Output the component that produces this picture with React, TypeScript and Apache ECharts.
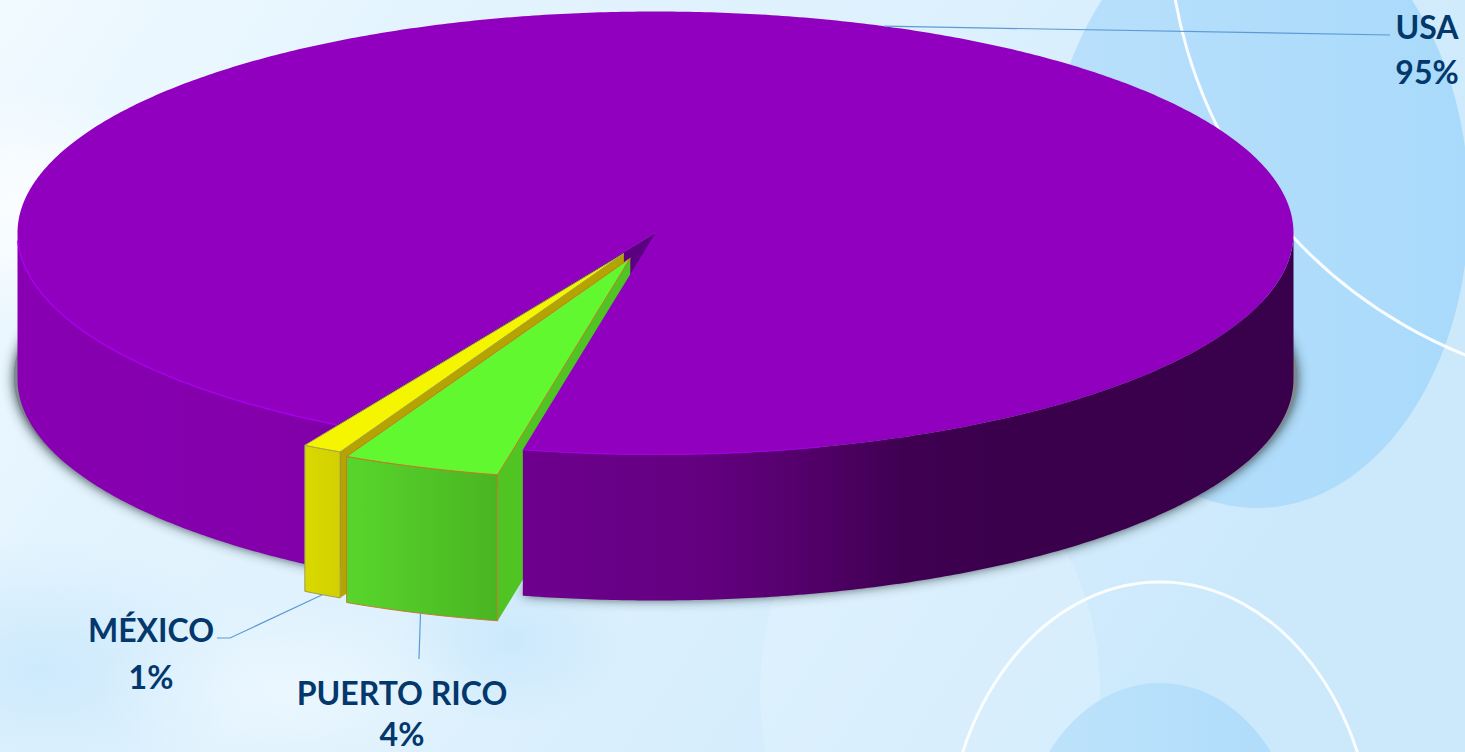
import React, { useEffect, useRef } from "react";
import * as echarts from "echarts";

// ---- data ----
const categories = ["USA", "PUERTO RICO", "MÉXICO"];
const seriesValues = [95, 4, 1];
const explosion = [0, 0.12, 0.105];
const firstSliceAngle = 210;

// ---- layout ----
const W = 1465;
const H = 752;
const CX = 655.5;
const CY = 233;
const RX = 638;
const RY = 221.5;
const DEPTH = 146;
const FONT = "Lato";
const LABEL_COLOR = "#03386c";
const LEADER = "#5b9bd5";
const labelBoxes: [number, number, number][] = [
  [1427, 26, 71],
  [402, 692, 733],
  [151, 629, 676],
];
const leaderKnee: [number, number][][] = [
  [[1390, 35]],
  [[419, 659]],
  [[230, 638], [217, 638]],
];

const total = seriesValues.reduce((a, b) => a + b, 0);
const deg = Math.PI / 180;
const starts: number[] = [];
seriesValues.reduce((acc, v, i) => {
  starts[i] = acc;
  return acc + (v / total) * 360;
}, firstSliceAngle);
const ends = seriesValues.map((v, i) => starts[i] + (v / total) * 360);
const mids = starts.map((s, i) => (s + ends[i]) / 2);

function pt(i: number, a: number, r: number, dz: number): [number, number] {
  const e = explosion[i];
  const m = mids[i] * deg;
  const t = a * deg;
  return [
    CX + RX * (e * Math.sin(m) + r * Math.sin(t)),
    CY - RY * (e * Math.cos(m) + r * Math.cos(t)) + dz,
  ];
}
function arc(i: number, a0: number, a1: number, dz: number, r = 1) {
  const out: [number, number][] = [];
  const n = Math.max(2, Math.ceil(Math.abs(a1 - a0) * 2));
  for (let k = 0; k <= n; k++) out.push(pt(i, a0 + ((a1 - a0) * k) / n, r, dz));
  return out;
}
function hgrad(x0: number, x1: number, stops: [number, string][]) {
  return new echarts.graphic.LinearGradient(
    x0, 0, x1, 0,
    stops.map(([p, color]) => ({ offset: (p - x0) / (x1 - x0), color })),
    true
  );
}
const poly = (points: [number, number][], style: any) => ({ type: "polygon", shape: { points }, style });

function frontRanges(a0: number, a1: number) {
  const out: [number, number][] = [];
  for (const [f0, f1] of [[90, 270], [450, 630]]) {
    const s = Math.max(a0, f0);
    const e = Math.min(a1, f1);
    if (e > s) out.push([s, e]);
  }
  return out;
}
function radialFace(i: number, fill: string) {
  const c = pt(i, 0, 0, 0);
  const c2 = pt(i, 0, 0, DEPTH);
  const r = pt(i, starts[i], 1, 0);
  const r2 = pt(i, starts[i], 1, DEPTH);
  return poly([c, r, r2, c2], { fill });
}
function wallSegments(i: number, fill: any, stroke?: string) {
  return frontRanges(starts[i], ends[i]).map(([s, e]) =>
    poly([...arc(i, s, e, 0), ...arc(i, e, s, DEPTH)], { fill, stroke, lineWidth: stroke ? 1 : 0 })
  );
}
const topFace = (i: number, fill: string, stroke?: string) =>
  poly([pt(i, 0, 0, 0), ...arc(i, starts[i], ends[i], 0)], { fill, stroke, lineWidth: stroke ? 1 : 0 });

const usaWall = () =>
  hgrad(18, 1294, [
    [18, "#8800b2"],
    [300, "#8200aa"],
    [520, "#6e008e"],
    [700, "#630080"],
    [800, "#54006c"],
    [900, "#400052"],
    [1000, "#3a004c"],
    [1294, "#39004b"],
  ]);

// Painted back to front: hidden sides + shadow first, so the USA top face can occlude them.
const underLayer = () => ({
  type: "group",
  children: [
    poly(
      [[CX, CY + DEPTH - 2] as [number, number], ...arc(0, starts[0], ends[0], DEPTH - 2)].map(
        ([x, y]) => [CX + (x - CX) * 1.006, y] as [number, number]
      ),
      { fill: "#7d8a8e", shadowBlur: 12, shadowColor: "rgba(40,55,60,0.9)", shadowOffsetY: 1 }
    ),
    radialFace(0, "#5a0080"),
    radialFace(2, "#b5a300"),
    radialFace(1, "#4fc423"),
  ],
});

const usaLayer = () => ({
  type: "group",
  children: [
    ...wallSegments(0, usaWall()),
    topFace(0, "#9100bf"),
    { type: "polyline", shape: { points: arc(0, starts[0], 268, 0) }, style: { fill: "none", stroke: "#a800e8", lineWidth: 1.5 } },
    { type: "polyline", shape: { points: arc(0, 165, starts[1] - 360, 0) }, style: { fill: "none", stroke: "#a200de", lineWidth: 1.2 } },
  ],
});
const mexicoLayer = () => ({
  type: "group",
  children: [
    ...wallSegments(2, hgrad(305, 340, [[305, "#d9d900"], [340, "#d3d000"]]), "#9a9a60"),
    topFace(2, "#f5f500", "#a8a850"),
  ],
});
const puertoRicoLayer = () => ({
  type: "group",
  children: [
    ...wallSegments(1, hgrad(345, 497, [[345, "#58d62c"], [497, "#4ab522"]]), "#c47a2c"),
    topFace(1, "#62f830", "#c47a2c"),
  ],
});

function labelText(x: number, y: number, text: string) {
  return {
    type: "text",
    x,
    y,
    style: {
      text,
      font: `bold 32px ${FONT}`,
      fill: LABEL_COLOR,
      align: "center",
      verticalAlign: "middle",
      lineHeight: 30,
    },
  };
}

function labelLayer(i: number) {
  const start = pt(i, mids[i], 1, i === 0 ? 0 : DEPTH);
  const [lx, y1, y2] = labelBoxes[i];
  return {
    type: "group",
    children: [
      { type: "polyline", shape: { points: [start, ...leaderKnee[i]] }, style: { fill: "none", stroke: LEADER, lineWidth: 1.2 } },
      labelText(lx, y1, categories[i]),
      labelText(lx, y2, `${seriesValues[i]}%`),
    ],
  };
}

function layerSeries(z: number, render: (i: number) => any) {
  return {
    type: "custom",
    coordinateSystem: "none",
    silent: true,
    z,
    data: seriesValues,
    renderItem: (params: any) => render(params.dataIndex),
  };
}

function radial(color0: string, color1: string) {
  return new echarts.graphic.RadialGradient(0.5, 0.5, 0.5, [
    { offset: 0, color: color0 },
    { offset: 1, color: color1 },
  ]);
}

function background() {
  const els: any[] = [
    {
      type: "rect",
      shape: { x: 0, y: 0, width: W, height: H },
      style: {
        fill: new echarts.graphic.LinearGradient(0, 0, 1, 0.35, [
          { offset: 0, color: "#f1faff" },
          { offset: 0.25, color: "#e4f4fe" },
          { offset: 0.6, color: "#dcf0fd" },
          { offset: 1, color: "#cce9fc" },
        ]),
      },
    },
    { type: "ellipse", shape: { cx: 30, cy: 210, rx: 150, ry: 120 }, style: { fill: radial("rgba(255,255,255,0.85)", "rgba(255,255,255,0)") } },
    { type: "ellipse", shape: { cx: 40, cy: 670, rx: 210, ry: 130 }, style: { fill: radial("rgba(195,229,252,0.7)", "rgba(195,229,252,0)") } },
    { type: "ellipse", shape: { cx: 510, cy: 640, rx: 120, ry: 85 }, style: { fill: radial("rgba(195,229,252,0.7)", "rgba(195,229,252,0)") } },
    { type: "ellipse", shape: { cx: 290, cy: 690, rx: 190, ry: 90 }, style: { fill: radial("rgba(240,249,255,0.7)", "rgba(240,249,255,0)") } },
    { type: "ellipse", shape: { cx: 930, cy: 690, rx: 170, ry: 230 }, style: { fill: "rgba(238,249,255,0.28)" } },
    {
      type: "ellipse",
      shape: { cx: 1257, cy: 206, rx: 212, ry: 302 },
      style: {
        fill: new echarts.graphic.LinearGradient(0, 0, 1, 0, [
          { offset: 0, color: "#b9e0fb" },
          { offset: 1, color: "#a9dafb" },
        ]),
      },
    },
    { type: "circle", shape: { cx: 1639, cy: -83, r: 471 }, style: { fill: "none", stroke: "rgba(255,255,255,0.92)", lineWidth: 3 } },
    { type: "ellipse", shape: { cx: 1160, cy: 860, rx: 214, ry: 278 }, style: { fill: "none", stroke: "rgba(255,255,255,0.9)", lineWidth: 3 } },
    {
      type: "ellipse",
      shape: { cx: 1160, cy: 860, rx: 140, ry: 177 },
      style: {
        fill: new echarts.graphic.LinearGradient(0, 0, 1, 0, [
          { offset: 0, color: "#bfe3fb" },
          { offset: 1, color: "#aedcfb" },
        ]),
      },
    },
  ];
  return els;
}

export default function App() {
  const ref = useRef<HTMLDivElement>(null);
  useEffect(() => {
    document.body.style.margin = "0";
    const chart = echarts.init(ref.current!, undefined, { renderer: "svg" });
    chart.setOption({
      animation: false,
      backgroundColor: "#dff1fd",
      graphic: { elements: background() },
      series: [
        layerSeries(2, (i) => (i === 0 ? underLayer() : null)),
        layerSeries(3, (i) => (i === 0 ? usaLayer() : null)),
        layerSeries(4, (i) => (i === 2 ? mexicoLayer() : null)),
        layerSeries(5, (i) => (i === 1 ? puertoRicoLayer() : null)),
        layerSeries(6, (i) => labelLayer(i)),
      ],
    });
    return () => chart.dispose();
  }, []);
  return <div ref={ref} style={{ width: W, height: H, overflow: "hidden" }} />;
}
